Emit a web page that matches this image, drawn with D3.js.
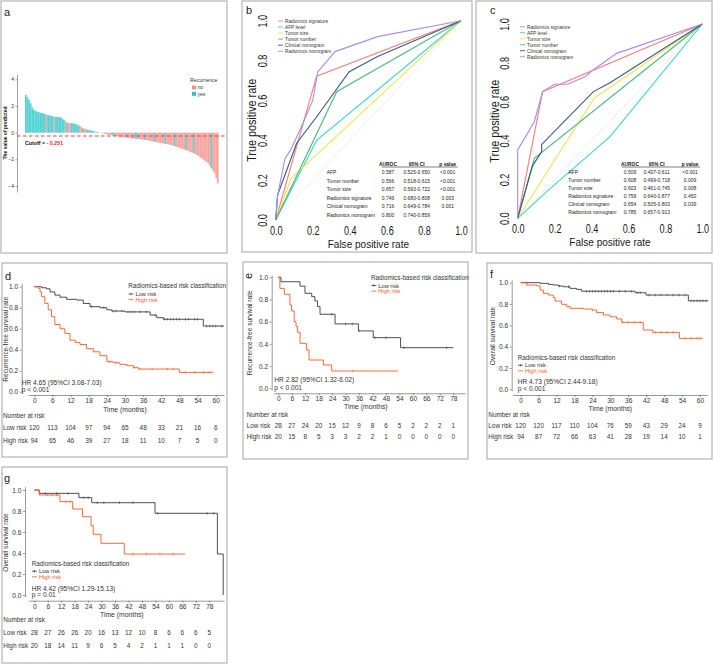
<!DOCTYPE html>
<html><head><meta charset="utf-8">
<script src="https://cdn.jsdelivr.net/npm/d3@7/dist/d3.min.js"></script>
<style>html,body{margin:0;padding:0;background:#fff;}svg{display:block;}</style>
</head><body>
<svg id="fig" width="713" height="665"></svg>
<script>
// ================= DATA =================
// Panel a: sorted predicted values (waterfall); class: y = recurrence yes, n = no
const waterfallValues = [2.83,2.65,2.45,2.2,1.9,1.72,1.63,1.58,1.54,1.5,
 1.47,1.44,1.4,1.36,1.33,1.3,1.26,1.23,1.2,1.19,
 1.18,1.16,1.15,1.05,0.95,0.85,0.75,0.73,0.72,0.71,
 0.7,0.66,0.62,0.58,0.5,0.42,0.33,0.3,0.26,0.23,
 0.2,0.17,0.14,0.1,0.07,0.05,0.02,0,-0.03,-0.06,
 -0.09,-0.12,-0.15,-0.17,-0.19,-0.22,-0.24,-0.26,-0.28,-0.3,
 -0.31,-0.33,-0.34,-0.36,-0.37,-0.39,-0.4,-0.42,-0.43,-0.45,
 -0.46,-0.48,-0.49,-0.51,-0.52,-0.54,-0.55,-0.58,-0.6,-0.63,
 -0.65,-0.68,-0.7,-0.73,-0.75,-0.77,-0.79,-0.81,-0.84,-0.86,
 -0.88,-0.91,-0.93,-0.97,-1.01,-1.05,-1.09,-1.13,-1.18,-1.22,
 -1.26,-1.3,-1.35,-1.4,-1.45,-1.5,-1.55,-1.6,-1.68,-1.76,
 -1.85,-1.93,-2.02,-2.11,-2.2,-2.3,-2.5,-2.68,-2.85,-3.05,
 -3.4,-3.8];
const waterfallClass = ["yyyyyyyyyyyyy","n","yyyy","n","yyyyyy","n","y","nn","yyyyy","nn","y","nn","yyyy","ynyy",
 "nynnyn","nnyynnnn","nnnynnnnyy","nnnnynnnnn","ynnnnnnynn","nnnynnnnnn","ynnnnynnnn","nnnnnnynnnn"].join("");
const waterfallTicks = [-4,-2,0,2,4];
const cutoffValue = -0.251;
const recurrenceLevels = ["no","yes"];

// Panels b, c: ROC curves (FPR, TPR), in legend order
const rocNames = ["Radiomics signature","AFP level","Tumor size","Tumor number","Clinical nomogram","Radiomics nomogram"];
const rocColors = ["#f4827c","#3fd3d3","#f3e45a","#4dbb7c","#3a5a88","#a98df0"];
const rocTicks = [0,0.2,0.4,0.6,0.8,1.0];
const rocDiagonal = [[0,0],[1,1]];
const rocTrain = [
  [[0,0],[0.221,0.722],[1,1]],
  [[0,0],[0.221,0.40],[1,1]],
  [[0,0],[0.083,0.209],[1,1]],
  [[0,0],[0.329,0.644],[1,1]],
  [[0,0],[0.01,0.125],[0.113,0.385],[0.221,0.518],[0.397,0.744],[0.55,0.82],[1,1]],
  [[0,0],[0.01,0.12],[0.05,0.309],[0.08,0.35],[0.13,0.45],[0.2,0.6],[0.227,0.744],[0.27,0.79],[0.32,0.845],[0.55,0.92],[1,1]]
];
const rocTest = [
  [[0,0],[0.135,0.652],[1,1]],
  [[0,0],[0.16,0.14],[0.5,0.42],[1,1]],
  [[0,0],[0.413,0.617],[1,1]],
  [[0,0],[0.09,0.309],[1,1]],
  [[0,0],[0.08,0.27],[0.13,0.343],[0.13,0.38],[0.41,0.652],[0.5,0.698],[1,1]],
  [[0,0],[0,0.352],[0.09,0.497],[0.135,0.652],[0.2,0.69],[0.27,0.69],[0.365,0.729],[0.41,0.765],[0.536,0.849],[1,1]]
];
const tableHeader = ["AUROC","95% CI","p value"];
const tableRows = ["AFP","Tumor number","Tumor size","Radiomics signature","Clinical nomogram","Radiomics nomogram"];
const trainAuc = ["0.587","0.566","0.657","0.749","0.716","0.800"];
const trainCI  = ["0.525-0.650","0.518-0.615","0.593-0.722","0.680-0.808","0.649-0.784","0.740-0.859"];
const trainP   = ["<0.001","<0.001","<0.001","0.003","0.001",""];
const testAuc  = ["0.509","0.608","0.603","0.759","0.654","0.785"];
const testCI   = ["0.407-0.611","0.499-0.718","0.461-0.745","0.640-0.877","0.505-0.803","0.657-0.913"];
const testP    = ["<0.001","0.009","0.008","0.450","0.039",""];

// Panels d-g: Kaplan-Meier step points [time (months), survival]
const kmYTicks = [0,0.2,0.4,0.6,0.8,1.0];
const ticks60 = [0,6,12,18,24,30,36,42,48,54,60];
const ticks78 = [0,6,12,18,24,30,36,42,48,54,60,66,72,78];
const riskGroups = ["Low risk","High risk"];

const dLow = [[0,1],[2.4,0.99],[4,0.98],[5.2,0.95],[6.8,0.92],[8.5,0.9],[10.7,0.88],[14,0.873],[16.2,0.84],[18.4,0.81],[21.7,0.8],[24,0.78],[25.6,0.768],[30,0.76],[38.3,0.73],[40.5,0.705],[42.7,0.69],[55.9,0.625],[62.8,0.625]];
const dHigh = [[0,1],[1.3,0.985],[1.9,0.95],[2.4,0.905],[3.5,0.84],[4.6,0.78],[5.7,0.714],[6.8,0.64],[8.5,0.6],[10.1,0.555],[11.8,0.49],[13.5,0.47],[15.1,0.45],[17.3,0.41],[19.5,0.38],[21.7,0.343],[24,0.286],[26.1,0.276],[28.3,0.26],[30.6,0.248],[32.8,0.229],[34.4,0.216],[48,0.184],[59.2,0.184]];
const dLowCens = [19,23,26,27,29,31,32,33,35,37,40,43,44,45,46,47,48,50,51,53,54,57,58,59,60,62];
const dHighCens = [25,27,33,35,39,44,46,50,53,56,58];
const dRiskLow = [120,113,104,97,94,65,48,33,21,16,6];
const dRiskHigh = [94,65,46,39,27,18,11,10,7,5,0];

const eLow = [[0,1],[1.2,0.96],[9.7,0.92],[11.9,0.856],[14.9,0.826],[16.3,0.787],[17.5,0.736],[18.6,0.667],[25.3,0.58],[35.7,0.517],[42.3,0.456],[54.5,0.366],[78,0.366]];
const eHigh = [[0,1],[0.7,0.9],[2.7,0.847],[5.2,0.75],[5.9,0.697],[7.1,0.6],[7.9,0.556],[8.6,0.505],[9.7,0.405],[12.6,0.345],[13.7,0.255],[20.1,0.21],[23.8,0.156],[52.7,0.156]];
const eLowCens = [23.8,30,33,36,43,48,56,75];
const eHighCens = [33,53];
const eRiskLow = [28,27,24,20,15,12,9,8,6,5,2,2,2,1];
const eRiskHigh = [20,15,8,5,3,3,2,2,1,0,0,0,0,0];

const fLow = [[0,1],[6.5,0.994],[9.3,0.984],[10.9,0.978],[12.6,0.969],[14.3,0.962],[16.5,0.947],[18.7,0.9375],[20.4,0.92],[38.3,0.906],[41.9,0.884],[56.1,0.83],[62.8,0.83]];
const fHigh = [[0,1],[2,0.978],[5.4,0.97],[6.5,0.93],[7.6,0.9],[9.3,0.884],[10.9,0.86],[11.5,0.828],[13.7,0.797],[15.4,0.775],[16.5,0.76],[21,0.753],[23.8,0.744],[25.4,0.72],[27.7,0.697],[29.9,0.68],[32.1,0.66],[33.8,0.628],[41,0.556],[44.2,0.534],[53.1,0.478],[60.9,0.478]];
const fLowCens = [13,16,22,23,24,25,26,27,28,29,30,31,33,35,37,39,40,43,45,47,49,51,53,55,57,58,59,60,61,62];
const fHighCens = [24,34,36,38,40,45,47,49,51,55,57,59,60];
const fRiskLow = [120,120,117,110,104,76,59,43,29,24,9];
const fRiskHigh = [94,87,72,66,63,41,28,19,14,10,1];

const gLow = [[0,1],[2.2,0.968],[19.9,0.927],[25.6,0.879],[53.8,0.778],[81.6,0.39],[84.2,0]];
const gHigh = [[0,1],[2.2,0.952],[11.4,0.889],[17.1,0.819],[21.5,0.746],[25.3,0.66],[26.3,0.578],[29.7,0.492],[40.1,0.39],[67.2,0.39]];
const gLowCens = [5,10,15,22,24,28,31,38,44,55,77,80];
const gHighCens = [6,8,10,14,16,44,50,56,62];
const gRiskLow = [28,27,26,26,20,16,13,12,10,8,6,6,6,5];
const gRiskHigh = [20,18,14,11,9,6,5,4,2,1,1,1,0,0];

// ================= DRAWING =================
const FONT = "'Liberation Sans', Arial, Helvetica, sans-serif";
const svg = d3.select("#fig");
const LOWC = "#3a3a3a", HIGHC = "#fa5a24";
const PINK = "#f7a6a1", CYAN = "#55d3d5";

function txt(p, x, y, s, o = {}) {
  let tr = `translate(${x},${y})`;
  if (o.rot) tr += ` rotate(${o.rot})`;
  if (o.sx && o.sx !== 1) tr += ` scale(${o.sx},1)`;
  const t = p.append("text").attr("transform", tr)
    .attr("font-size", o.size || 7).attr("font-family", o.family || FONT)
    .attr("fill", o.fill || "#222").attr("text-anchor", o.anchor || "start")
    .attr("dy", "0.35em");
  if (o.weight) t.attr("font-weight", o.weight);
  t.text(s);
  return t;
}

// panel frames
const frames = [[1,1,226,252],[242,1,230,251],[476,1,236,252],[2,263,225,194],[243,262,225,197],[487,263,225,196],[2,467,225,196]];
svg.selectAll("rect.frame").data(frames).join("rect").attr("class","frame")
  .attr("x",d=>d[0]).attr("y",d=>d[1]).attr("width",d=>d[2]).attr("height",d=>d[3])
  .attr("fill","none").attr("stroke","#b4b4b4").attr("stroke-width",1.2);

// ---------- Panel a ----------
(function(){
  const g = svg.append("g");
  txt(g, 4, 12, "a", {size: 11, fill:"#222"});
  const x = d3.scaleBand().domain(d3.range(waterfallValues.length)).range([25, 218.5]).padding(0);
  const y = d3.scaleLinear().domain([-4.45, 4.4]).range([192, 74]);
  g.selectAll("rect.bar").data(waterfallValues).join("rect").attr("class","bar")
    .attr("x",(d,i)=>x(i)).attr("width",x.bandwidth()+0.15)
    .attr("y",d=>Math.min(y(d),y(0))).attr("height",d=>Math.abs(y(d)-y(0)))
    .attr("fill",(d,i)=>waterfallClass[i]==="y"?CYAN:PINK);
  const ax = g.append("g").attr("transform","translate(17,0)")
    .call(d3.axisLeft(y).tickValues(waterfallTicks).tickSize(1.5).tickSizeOuter(0).tickPadding(1.5));
  ax.selectAll("path,line").attr("stroke","#444").attr("stroke-width",0.5);
  ax.selectAll("text").attr("font-size",5).attr("font-family",FONT).attr("fill","#333");
  txt(g, 5, 133, "The value of predicted", {size:5, rot:-90, anchor:"middle", weight:"bold", fill:"#111"});
  // cutoff line
  g.append("line").attr("x1",17).attr("x2",227).attr("y1",y(cutoffValue)).attr("y2",y(cutoffValue))
    .attr("stroke","#f03c3c").attr("stroke-width",1.1).attr("stroke-dasharray","3.5,2.5");
  const ct = txt(g, 25, 143, "", {size:5.3, weight:"bold", fill:"#111"});
  ct.append("tspan").text("Cutoff = ");
  ct.append("tspan").attr("fill","#ee2b2b").text("- " + Math.abs(cutoffValue).toFixed(3));
  // legend
  txt(g, 190, 80, "Recurrence", {size:5.3, fill:"#333"});
  const keyCols = ["#f58e88","#2fc3c6"];
  recurrenceLevels.forEach((lv,i)=>{
    g.append("rect").attr("x",192).attr("y",85.5+i*6.3).attr("width",4).attr("height",4).attr("fill",keyCols[i]);
    txt(g, 197.5, 87.5+i*6.3, lv, {size:5, fill:"#333"});
  });
})();

// ---------- Panels b, c (ROC) ----------
function drawROC(o){
  const g = svg.append("g");
  txt(g, o.lab[0], o.lab[1], o.letter, {size: 11});
  const x = d3.scaleLinear().domain([0,1]).range([o.x0,o.x1]);
  const y = d3.scaleLinear().domain([0,1]).range([o.y0,o.y1]);
  const line = d3.line().x(d=>x(d[0])).y(d=>y(d[1]));
  g.append("path").attr("d", line(rocDiagonal)).attr("fill","none").attr("stroke","#d6d6d6")
    .attr("stroke-width",0.8).attr("stroke-dasharray","1.5,1.5");
  o.curves.forEach((c,i)=>{
    g.append("path").attr("d", line(c)).attr("fill","none").attr("stroke",rocColors[i]).attr("stroke-width",1.15);
  });
  // axis tick labels
  const xa = g.append("g").attr("transform",`translate(0,${o.xLabY})`)
    .call(d3.axisBottom(x).tickValues(rocTicks).tickFormat(d3.format(".1f")).tickSize(0));
  xa.select(".domain").remove();
  xa.selectAll("text").attr("y",0).attr("dy","0.35em").attr("transform","scale(0.74,1)")
    .attr("font-size",12.3).attr("font-family",FONT).attr("fill","#1a1a1a");
  const ya = g.append("g").attr("transform",`translate(${o.yLabX},0)`)
    .call(d3.axisLeft(y).tickValues(rocTicks).tickFormat(d3.format(".1f")).tickSize(0));
  ya.select(".domain").remove();
  ya.selectAll("text").attr("x",0).attr("dy","0.35em").attr("text-anchor","middle")
    .attr("transform","rotate(-90) scale(0.74,1)")
    .attr("font-size",12.3).attr("font-family",FONT).attr("fill","#1a1a1a");
  txt(g, (o.x0+o.x1)/2, o.xTitleY, "False positive rate", {size:11.8, anchor:"middle", sx:0.85, fill:"#1a1a1a"});
  txt(g, o.yTitleX, (o.y0+o.y1)/2, "True positive rate", {size:12, anchor:"middle", rot:-90, sx:0.9, fill:"#1a1a1a"});
  // legend
  rocNames.forEach((n,i)=>{
    const yy = o.leg[1] + i*o.leg[2];
    g.append("line").attr("x1",o.leg[0]).attr("x2",o.leg[0]+5).attr("y1",yy).attr("y2",yy)
      .attr("stroke",rocColors[i]).attr("stroke-width",0.9);
    txt(g, o.leg[0]+7, yy, n, {size:5.6, sx:0.85, fill:"#333"});
  });
  // table
  const t = o.tab;
  tableHeader.forEach((h,j)=> txt(g, t.cols[j], t.hy, h, {size:5.4, anchor:"middle", weight:"bold", sx:0.9, fill:"#111"}));
  g.append("line").attr("x1",t.ul[0]).attr("x2",t.ul[1]).attr("y1",t.hy+3).attr("y2",t.hy+3)
    .attr("stroke","#222").attr("stroke-width",0.6);
  tableRows.forEach((r,i)=>{
    const yy = t.y0 + i*t.dy;
    txt(g, t.lx, yy, r, {size:5.4, sx:0.92, fill:"#222"});
    txt(g, t.cols[0], yy, t.auc[i], {size:5.4, anchor:"middle", sx:0.92, fill:"#222"});
    txt(g, t.cols[1], yy, t.ci[i], {size:5.4, anchor:"middle", sx:0.92, fill:"#222"});
    txt(g, t.cols[2], yy, t.p[i], {size:5.4, anchor:"middle", sx:0.92, fill:"#222"});
  });
}
drawROC({letter:"b", lab:[246,10], x0:275.7, x1:461, y0:220, y1:20.7, xLabY:231, yLabX:263,
  xTitleY:244, yTitleX:252, curves:rocTrain, leg:[278,21,6.05],
  tab:{hy:164, ul:[381.7,457.7], cols:[388,416.7,447.7], lx:326.7, y0:172.3, dy:8.55, auc:trainAuc, ci:trainCI, p:trainP}});
drawROC({letter:"c", lab:[490,10], x0:517.7, x1:702.3, y0:218.3, y1:24, xLabY:229, yLabX:505,
  xTitleY:242, yTitleX:495, curves:rocTest, leg:[520,26.7,6],
  tab:{hy:164, ul:[621.7,700], cols:[630,656.7,690], lx:568.3, y0:172.3, dy:8.0, auc:testAuc, ci:testCI, p:testP}});

// ---------- Panels d-g (Kaplan-Meier) ----------
function drawKM(c){
  const g = svg.append("g");
  txt(g, c.lab[0], c.lab[1], c.letter, {size:11, rot:c.labRot||0, anchor:c.labRot?"middle":"start"});
  const pxPerT = (c.xmax - c.x0)/c.tmax;
  const x = d3.scaleLinear().domain([(c.xAx[0]-c.x0)/pxPerT, (c.xAx[1]-c.x0)/pxPerT]).range(c.xAx);
  const y = d3.scaleLinear().domain([(c.y0-c.yAx[1])/(c.y0-c.y1), (c.y0-c.yAx[0])/(c.y0-c.y1)]).range([c.yAx[1], c.yAx[0]]);
  const xa = g.append("g").attr("transform",`translate(0,${c.xAxY})`)
    .call(d3.axisBottom(x).tickValues(c.ticks).tickSize(2).tickSizeOuter(0).tickPadding(1.5));
  const ya = g.append("g").attr("transform",`translate(${c.yAxX},0)`)
    .call(d3.axisLeft(y).tickValues(kmYTicks).tickFormat(d3.format(".1f")).tickSize(2).tickSizeOuter(0).tickPadding(1.5));
  [xa,ya].forEach(a=>{
    a.selectAll("text").attr("font-size",6.6).attr("font-family",FONT).attr("fill","#333");
    a.selectAll("path,line").attr("stroke","#555").attr("stroke-width",0.6);
  });
  txt(g, (c.x0 + x(c.ticks[c.ticks.length-1]))/2, c.timeY, "Time (months)", {size:6.8, anchor:"middle", fill:"#333"});
  txt(g, c.ytX, (c.y0+c.y1)/2, c.ytitle, {size:6.6, anchor:"middle", rot:-90, fill:"#333"});
  const line = d3.line().x(d=>x(d[0])).y(d=>y(d[1])).curve(d3.curveStepAfter);
  const series = [[c.low, c.lowC, LOWC],[c.high, c.highC, HIGHC]];
  series.forEach(([pts, cens, col])=>{
    g.append("path").attr("d", line(pts)).attr("fill","none").attr("stroke",col).attr("stroke-width",0.9);
    const bis = d3.bisector(d=>d[0]).right;
    cens.forEach(t=>{
      const s = pts[Math.max(0, bis(pts, t)-1)][1];
      g.append("line").attr("x1",x(t)).attr("x2",x(t)).attr("y1",y(s)-1.3).attr("y2",y(s)+1.3)
        .attr("stroke",col).attr("stroke-width",0.6);
    });
  });
  // legend
  txt(g, c.legT[0], c.legT[1], "Radiomics-based risk classification", {size:6.3, fill:"#333"});
  riskGroups.forEach((r,i)=>{
    const yy = c.legRows[0] + i*5.6;
    const col = i===0?LOWC:HIGHC;
    g.append("line").attr("x1",c.legSym).attr("x2",c.legSym+5).attr("y1",yy).attr("y2",yy).attr("stroke",col).attr("stroke-width",0.8);
    if(i===0) g.append("line").attr("x1",c.legSym+2.5).attr("x2",c.legSym+2.5).attr("y1",yy-1.3).attr("y2",yy+1.3).attr("stroke",col).attr("stroke-width",0.6);
    txt(g, c.legSym+7, yy, r, {size:5.7, fill:i===0?"#333":HIGHC});
  });
  txt(g, c.hr[0], c.hr[1], c.hrText, {size:6.6, fill:"#333"});
  txt(g, c.hr[0], c.pY, c.pText, {size:6.6, fill:"#333"});
  // number at risk
  txt(g, c.nar[0], c.nar[1], "Number at risk", {size:6.4, fill:"#333"});
  [[c.riskLow, c.nar[2]],[c.riskHigh, c.nar[3]]].forEach(([vals, yy], i)=>{
    txt(g, c.nar[0], yy, riskGroups[i], {size:6.4, fill:"#333"});
    vals.forEach((v,j)=> txt(g, x(c.ticks[j]), yy, String(v), {size:6.4, anchor:"middle", fill:"#333"}));
  });
}

drawKM({letter:"d", lab:[5,276], x0:34.3, xmax:215.7, tmax:60, ticks:ticks60, xAx:[28.3,224], xAxY:395,
  y1:286.7, y0:391.7, yAxX:21.7, yAx:[283.3,393.3], ytitle:"Recurrence-free survival rate", ytX:6, timeY:410,
  low:dLow, high:dHigh, lowC:dLowCens, highC:dHighCens,
  legT:[128.3,286], legRows:[294,299.5], legSym:128.5,
  hr:[21.7,382.5], pY:389.5, hrText:"HR 4.65 (95%CI 3.08-7.03)", pText:"p < 0.001",
  nar:[3,416,427.7,441], riskLow:dRiskLow, riskHigh:dRiskHigh});

drawKM({letter:"e", lab:[248,276], labRot:-90, x0:278.3, xmax:453.3, tmax:78, ticks:ticks78, xAx:[273.3,465], xAxY:393.3,
  y1:277.3, y0:388.3, yAxX:271.7, yAx:[275,390], ytitle:"Recurrence-free survival rate", ytX:250, timeY:406.7,
  low:eLow, high:eHigh, lowC:eLowCens, highC:eHighCens,
  legT:[371,277.3], legRows:[285.5,291.7], legSym:371.3,
  hr:[274.3,379.5], pY:387.5, hrText:"HR 2.82 (95%CI 1.32-6.02)", pText:"p < 0.001",
  nar:[246.7,415,426,437], riskLow:eRiskLow, riskHigh:eRiskHigh});

drawKM({letter:"f", lab:[490,274.3], x0:520.7, xmax:700, tmax:60, ticks:ticks60, xAx:[512.7,707.3], xAxY:395,
  y1:282.7, y0:389.3, yAxX:511.7, yAx:[280,391], ytitle:"Overall survival rate", ytX:492.7, timeY:408.3,
  low:fLow, high:fHigh, lowC:fLowCens, highC:fHighCens,
  legT:[517.7,358], legRows:[365.2,371], legSym:518,
  hr:[517.7,381.5], pY:389, hrText:"HR 4.73 (95%CI 2.44-9.18)", pText:"p < 0.001",
  nar:[488.3,415,426,437], riskLow:fRiskLow, riskHigh:fRiskHigh});

drawKM({letter:"g", lab:[4,478.3], x0:34.3, xmax:209.3, tmax:78, ticks:ticks78, xAx:[28.3,224], xAxY:600.7,
  y1:490, y0:595, yAxX:25, yAx:[486.7,596.7], ytitle:"Overall survival rate", ytX:6, timeY:614.3,
  low:gLow, high:gHigh, lowC:gLowCens, highC:gHighCens,
  legT:[31.7,564], legRows:[571.2,577.3], legSym:32,
  hr:[31.7,588.3], pY:595, hrText:"HR 4.42 (95%CI 1.29-15.13)", pText:"p = 0.01",
  nar:[3.3,619.3,632.3,645.7], riskLow:gRiskLow, riskHigh:gRiskHigh});
</script>
</body></html>
